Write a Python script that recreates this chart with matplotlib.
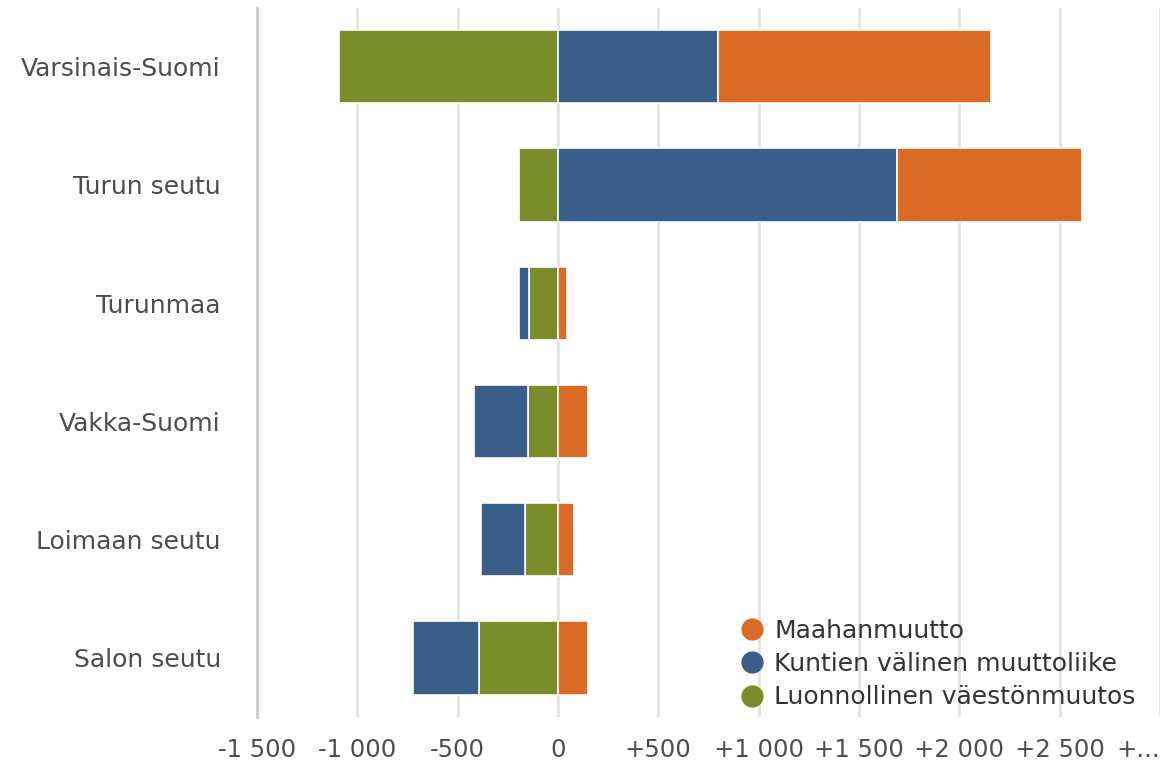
import matplotlib
matplotlib.use("Agg")
import matplotlib.pyplot as plt
from matplotlib.lines import Line2D
import numpy as np

alueet = ["Varsinais-Suomi", "Turun seutu", "Turunmaa", "Vakka-Suomi", "Loimaan seutu", "Salon seutu"]
maahanmuutto = [1360, 920, 45, 150, 80, 150]
kuntien_valinen = [800, 1690, -50, -270, -220, -325]
luonnollinen = [-1090, -195, -145, -150, -165, -395]

xticks = [-1500, -1000, -500, 0, 500, 1000, 1500, 2000, 2500, 3000]
xticklabels = ["-1 500", "-1 000", "-500", "0", "+500", "+1 000", "+1 500", "+2 000", "+2 500", "+..."]

# stacking order from the axis outwards: green, blue, orange
sarjat = [
    ("Luonnollinen väestönmuutos", luonnollinen, "#7B8C2A"),
    ("Kuntien välinen muuttoliike", kuntien_valinen, "#3A5E8A"),
    ("Maahanmuutto", maahanmuutto, "#D96B24"),
]

fig = plt.figure(figsize=(11.68, 7.66), dpi=100)
ax = fig.add_axes([0.22, 0.064, 0.773, 0.926])

y = np.arange(len(alueet))
pos = np.zeros(len(alueet))
neg = np.zeros(len(alueet))
for nimi, arvot, vari in sarjat:
    arvot = np.array(arvot, dtype=float)
    left = np.where(arvot >= 0, pos, neg)
    ax.barh(y, arvot, left=left, height=0.62, color=vari, edgecolor="white", linewidth=1.2, zorder=3)
    pos = pos + np.where(arvot >= 0, arvot, 0)
    neg = neg + np.where(arvot < 0, arvot, 0)

ax.set_ylim(len(alueet) - 0.5, -0.5)
ax.set_xlim(-1500, 3000)
ax.set_yticks(y)
ax.set_yticklabels(alueet, fontsize=18, color="#4d4d4d")
ax.set_xticks(xticks)
ax.set_xticklabels(xticklabels, fontsize=17.5, color="#4d4d4d")
ax.get_xticklabels()[-1].set_horizontalalignment("right")
ax.tick_params(axis="y", length=0, pad=26)
ax.tick_params(axis="x", length=0, pad=15)
ax.grid(axis="x", color="#e3e3e3", linewidth=2, zorder=0)
for s in ["top", "right", "bottom"]:
    ax.spines[s].set_visible(False)
ax.spines["left"].set_color("#cccccc")
ax.spines["left"].set_linewidth(2)

handles = [Line2D([], [], marker="o", linestyle="", markersize=15, color=v) for _, _, v in sarjat[::-1]]
labels = [n for n, _, _ in sarjat[::-1]]
fig.legend(handles, labels, loc="upper left", bbox_to_anchor=(0.635, 0.192), frameon=False,
           fontsize=18, labelspacing=0.37, handletextpad=0.5, borderpad=0, borderaxespad=0,
           handlelength=0.8, labelcolor="#333333")

fig.savefig("out.png", dpi=100)
